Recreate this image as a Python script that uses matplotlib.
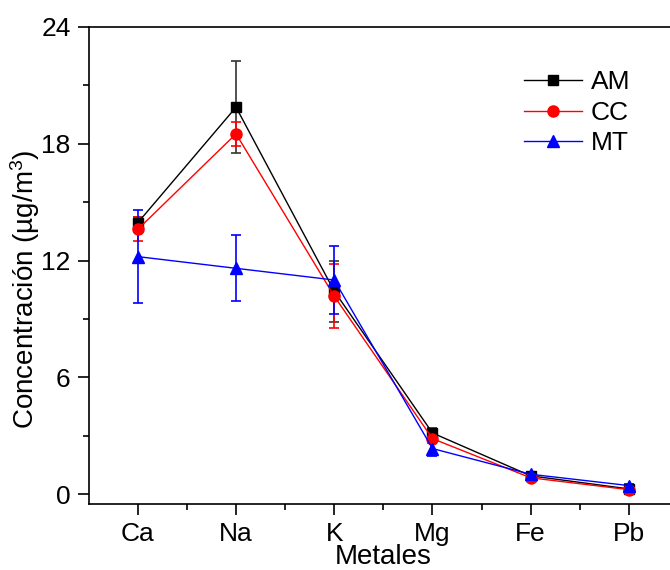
import matplotlib
matplotlib.use("Agg")
import matplotlib.pyplot as plt
from matplotlib.ticker import MultipleLocator, FixedLocator

plt.rcParams['font.family'] = ['Liberation Sans', 'DejaVu Sans']
plt.rcParams['mathtext.fontset'] = 'custom'
plt.rcParams['mathtext.rm'] = 'Liberation Sans'
plt.rcParams['mathtext.it'] = 'Liberation Sans:italic'

categories = ["Ca", "Na", "K", "Mg", "Fe", "Pb"]
am = [13.94, 19.87, 10.43, 3.15, 0.95, 0.28]
am_err = [0.3, 2.35, 1.56, 0.25, 0.1, 0.05]
cc = [13.6, 18.5, 10.17, 2.86, 0.85, 0.24]
cc_err = [0.62, 0.6, 1.65, 0.2, 0.1, 0.05]
mt = [12.2, 11.6, 11.0, 2.35, 1.03, 0.45]
mt_err = [2.4, 1.7, 1.72, 0.4, 0.1, 0.1]

x = list(range(1, len(categories) + 1))

fig = plt.figure(figsize=(6.7, 5.7), dpi=100)
ax = fig.add_axes([88.7 / 670, 66.3 / 570, (678 - 88.7) / 670, (503.7 - 26.7) / 570])

c1 = ax.errorbar(x, am, yerr=am_err, color='black', marker='s', ms=7, lw=1,
                 elinewidth=1.2, ecolor='#333333', capsize=3.6, capthick=1.2)
c2 = ax.errorbar(x, cc, yerr=cc_err, color='red', marker='o', ms=8, lw=1,
                 elinewidth=1.2, capsize=3.6, capthick=1.2)
c3 = ax.errorbar(x, mt, yerr=mt_err, color='blue', marker='^', ms=8.5, lw=1,
                 elinewidth=1.2, capsize=3.6, capthick=1.2)

ax.set_xlim(0.5, 6.5)
ax.set_ylim(-0.48, 24)
ax.set_xticks(x)
ax.set_xticklabels(categories)
ax.xaxis.set_minor_locator(FixedLocator([v + 0.5 for v in x]))
ax.yaxis.set_major_locator(MultipleLocator(6))
ax.yaxis.set_minor_locator(MultipleLocator(3))
ax.tick_params(axis='both', which='major', direction='out', length=8, width=1.2,
               labelsize=19, pad=5)
ax.tick_params(axis='both', which='minor', direction='out', length=4, width=1.2)
ax.tick_params(top=False, right=False)
for s in ax.spines.values():
    s.set_linewidth(1.2)

fig.text(383 / 670, (570 - 564) / 570, 'Metales', fontsize=20,
         ha='center', va='baseline')
fig.text(25 / 670, (570 - 429) / 570, 'Concentración (µg/m$^3$)', fontsize=20,
         rotation=90, ha='center', va='bottom')

leg = ax.legend([c1[0], c2[0], c3[0]], ['AM', 'CC', 'MT'],
                loc='upper left', bbox_to_anchor=(0.7207, 0.931), frameon=False,
                fontsize=19, handlelength=2.2, handletextpad=0.34, labelspacing=0.25,
                borderaxespad=0)

fig.savefig('out.png', dpi=100)
